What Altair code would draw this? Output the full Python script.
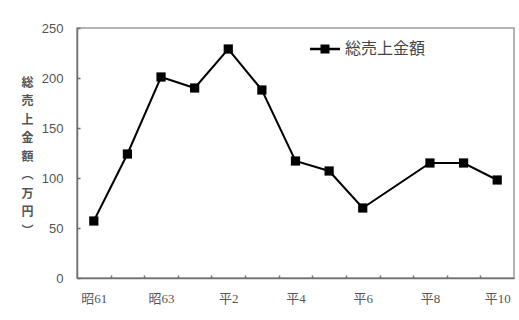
import altair as alt
import pandas as pd

# Annual total sales (in 10,000 yen); 平7 has no recorded value
categories = ["昭61", "昭62", "昭63", "平1", "平2", "平3", "平4",
              "平5", "平6", "平7", "平8", "平9", "平10"]
sales = [57, 124, 201, 190, 229, 188, 117, 107, 70, None, 115, 115, 98]
series_name = "総売上金額"
y_title = ["総", "売", "上", "金", "額", "︵", "万", "円", "︶"]
y_ticks = [0, 50, 100, 150, 200, 250]
x_label_positions = [0, 2, 4, 6, 8, 10, 12]

n = len(categories)
df = pd.DataFrame({
    "idx": list(range(n)),
    "label": categories,
    "sales": sales,
    "series": series_name,
}).dropna()

W, H = 437, 250
FONT = "Liberation Serif, Noto Sans CJK JP"
TEXT = "#555555"
AXIS = "#6f6f6f"

x_scale = alt.Scale(domain=[-0.5, n - 0.5], nice=False, zero=False)
y_scale = alt.Scale(domain=[0, 250], nice=False)
label_expr = "[" + ",".join(f"'{c}'" for c in categories) + "][datum.value]"

# Line layer carries the labelled axes
line = alt.Chart(df).mark_line(color="black", strokeWidth=2).encode(
    x=alt.X("idx:Q", scale=x_scale, axis=alt.Axis(
        values=x_label_positions, labelExpr=label_expr, ticks=False, grid=False,
        title=None, domainColor=AXIS, domainWidth=1.5, labelFont=FONT,
        labelFontSize=13, labelColor=TEXT, labelPadding=14)),
    y=alt.Y("sales:Q", scale=y_scale, axis=alt.Axis(
        values=y_ticks, ticks=False, grid=False, domainColor=AXIS, domainWidth=1.5,
        labelFont="Liberation Sans", labelFontSize=13, labelColor=TEXT,
        labelPadding=14,
        title=y_title, titleAngle=0, titleFont="Noto Sans CJK JP",
        titleFontSize=12, titleFontWeight="bold", titleColor=TEXT,
        titleLineHeight=18.5, titleX=-50, titleY=H / 2 - 76,
        titleAlign="center", titleBaseline="top")),
)

# Marker layer carries the inward tick marks and the legend
legend_symbol = "M-1,-0.08H1V0.08H-1Z M-0.3,-0.3H0.3V0.3H-0.3Z"
pts = alt.Chart(df).mark_point(shape="square", filled=True, size=85, opacity=1).encode(
    x=alt.X("idx:Q", scale=x_scale, axis=alt.Axis(
        orient="top", offset=-H, values=[i + 0.5 for i in range(n - 1)],
        labels=False, domain=False, tickSize=3, tickColor=AXIS, tickWidth=1.5,
        grid=False, title=None)),
    y=alt.Y("sales:Q", scale=y_scale, axis=alt.Axis(
        orient="right", offset=-W, values=y_ticks, labels=False, domain=False,
        tickSize=3, tickColor=AXIS, tickWidth=1.5, grid=False, title=None)),
    color=alt.Color("series:N", scale=alt.Scale(range=["black"]), legend=alt.Legend(
        title=None, orient="none", legendX=233, legendY=6, padding=0,
        symbolType=legend_symbol, symbolSize=900, symbolFillColor="black",
        symbolStrokeWidth=0, symbolOpacity=1, labelOffset=5,
        labelFont="Noto Sans CJK JP", labelFontSize=16, labelColor="#444444")),
)

chart = alt.layer(line, pts).resolve_axis(
    x="independent", y="independent"
).properties(
    width=W, height=H,
    padding={"left": 77, "top": 28, "right": 5, "bottom": 42},
    autosize=alt.AutoSizeParams(type="none"),
    background="white",
).configure_view(stroke="#9a9a9a", strokeWidth=1.5)

chart.save("out.html", embed_options={"renderer": "svg", "actions": False})
